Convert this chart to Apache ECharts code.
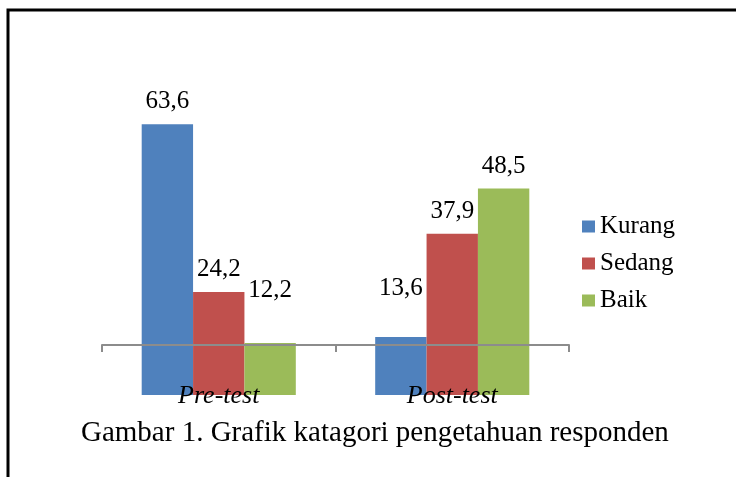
<!DOCTYPE html>
<html>
<head>
    <meta charset="utf-8">
    <script src="https://cdn.jsdelivr.net/npm/echarts@6/dist/echarts.min.js"></script>
    <style>
        html, body { margin: 0; padding: 0; background: #fff; }
    </style>
</head>
<body>
<div id="main" style="width: 736px;height:477px;"></div>

<script type="text/javascript">

    // data
    var kategori = ['Pre-test', 'Post-test'];
    var kurang = [63.6, 13.6];
    var sedang = [24.2, 37.9];
    var baik = [12.2, 48.5];

    var fontSerif = "'Liberation Serif', 'Times New Roman', serif";

    // label digeser manual seperti di gambar asli
    function buatData(arr, geser) {
        var out = [];
        for (var i = 0; i < arr.length; i++) {
            var d = {value: arr[i]};
            if (geser && geser[i]) {
                d.label = {offset: [0, geser[i]]};
            }
            out.push(d);
        }
        return out;
    }

    var labelBar = {
        show: true,
        position: 'top',
        distance: 10,
        color: '#000',
        fontSize: 25,
        fontFamily: fontSerif,
        formatter: function (p) {
            return String(p.value).replace('.', ',');
        }
    };

    var myChart = echarts.init(document.getElementById('main'));

    var option = {
        animation: false,
        color: ['#4F81BD', '#C0504D', '#9BBB59'],
        title: {
            text: 'Gambar 1. Grafik katagori pengetahuan responden',
            left: 81,
            top: 419,
            padding: 0,
            textStyle: {
                fontSize: 29,
                fontWeight: 'normal',
                fontFamily: fontSerif,
                color: '#000'
            }
        },
        legend: {
            orient: 'vertical',
            left: 582,
            top: 214,
            padding: 0,
            itemWidth: 13,
            itemHeight: 12,
            itemGap: 12,
            icon: 'rect',
            textStyle: {
                fontSize: 25,
                fontFamily: fontSerif,
                color: '#000'
            },
            data: ['Kurang', 'Sedang', 'Baik']
        },
        grid: {
            left: 102,
            right: 167,
            top: 97,
            bottom: 82,
            containLabel: false
        },
        xAxis: {
            type: 'category',
            data: kategori,
            offset: -50,
            z: 5,
            axisLine: {lineStyle: {color: '#8c8c8c', width: 2}},
            axisTick: {show: true, length: 7, lineStyle: {color: '#8c8c8c', width: 2}},
            axisLabel: {
                margin: 38,
                fontSize: 26,
                fontStyle: 'italic',
                fontFamily: fontSerif,
                color: '#000'
            }
        },
        yAxis: {
            type: 'value',
            min: 0,
            max: 70,
            show: false,
            splitLine: {show: false}
        },
        graphic: [
            {
                type: 'rect',
                shape: {x: 8, y: 10, width: 800, height: 600},
                style: {fill: 'none', stroke: '#000', lineWidth: 3},
                z: 10
            }
        ],
        series: [
            {
                name: 'Kurang',
                type: 'bar',
                barGap: 0,
                barCategoryGap: '34%',
                label: labelBar,
                data: buatData(kurang, [0, -26])
            },
            {
                name: 'Sedang',
                type: 'bar',
                barGap: 0,
                barCategoryGap: '34%',
                label: labelBar,
                data: buatData(sedang)
            },
            {
                name: 'Baik',
                type: 'bar',
                barGap: 0,
                barCategoryGap: '34%',
                label: labelBar,
                data: buatData(baik, [-30, 0])
            }
        ]
    };
    myChart.setOption(option);

</script>
</body>
</html>
